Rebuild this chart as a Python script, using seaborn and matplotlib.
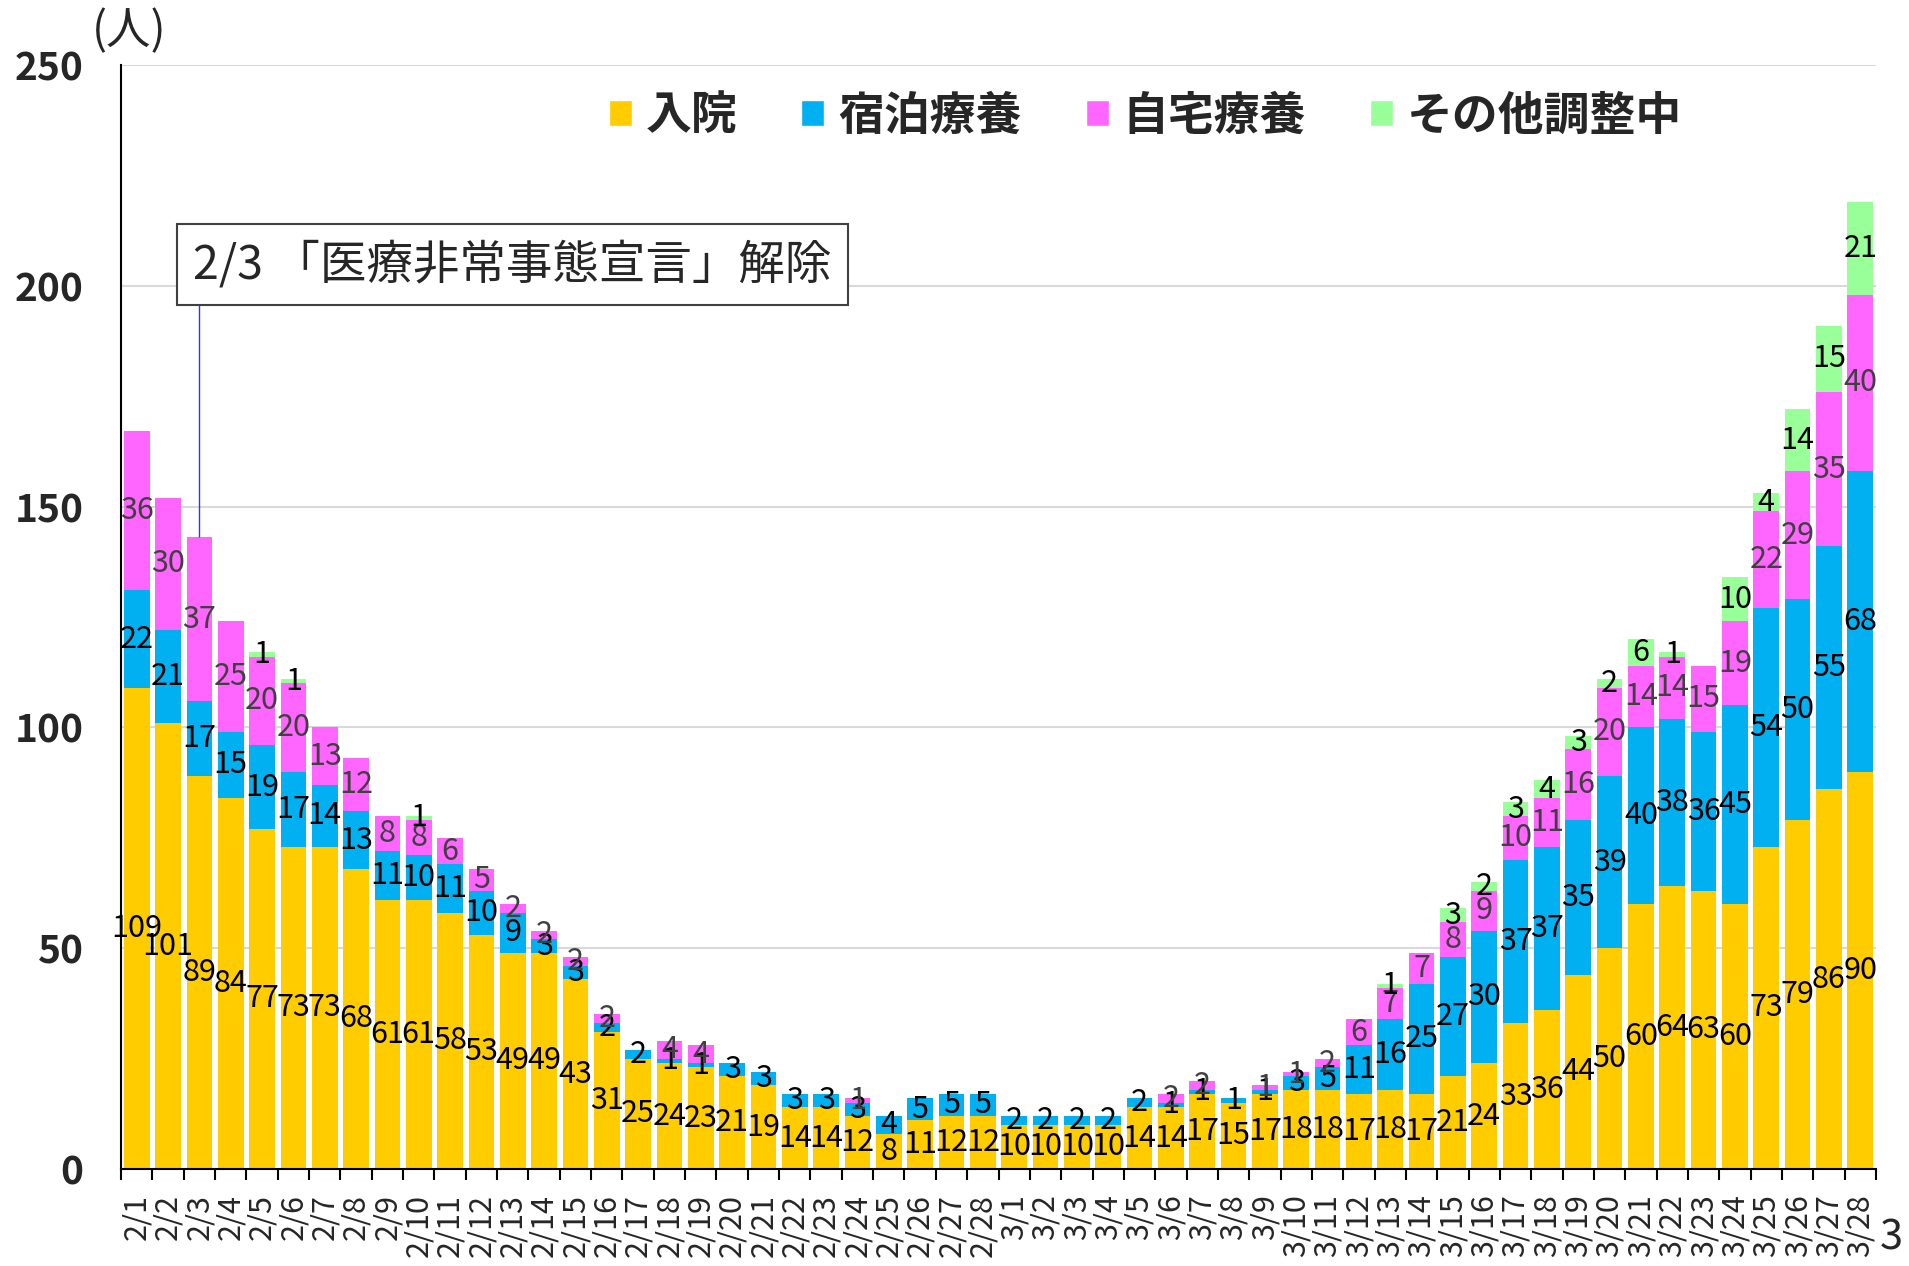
import numpy as np
import pandas as pd
import matplotlib
matplotlib.use('Agg')
import matplotlib.pyplot as plt
import seaborn as sns
from matplotlib.patches import Patch

sns.set_style('white')
plt.rcParams['font.family'] = ['Noto Sans CJK JP', 'DejaVu Sans']

# dates 2/1 - 3/28
dates = [f'2/{d}' for d in range(1, 29)] + [f'3/{d}' for d in range(1, 29)]

hospital = [109, 101, 89, 84, 77, 73, 73, 68, 61, 61, 58, 53, 49, 49, 43, 31, 25, 24, 23, 21,
            19, 14, 14, 12, 8, 11, 12, 12,
            10, 10, 10, 10, 14, 14, 17, 15, 17, 18, 18, 17, 18, 17, 21, 24, 33, 36, 44, 50,
            60, 64, 63, 60, 73, 79, 86, 90]
hotel = [22, 21, 17, 15, 19, 17, 14, 13, 11, 10, 11, 10, 9, 3, 3, 2, 2, 1, 1, 3,
         3, 3, 3, 3, 4, 5, 5, 5,
         2, 2, 2, 2, 2, 1, 1, 1, 1, 3, 5, 11, 16, 25, 27, 30, 37, 37, 35, 39,
         40, 38, 36, 45, 54, 50, 55, 68]
home = [36, 30, 37, 25, 20, 20, 13, 12, 8, 8, 6, 5, 2, 2, 2, 2, 0, 4, 4, 0,
        0, 0, 0, 1, 0, 0, 0, 0,
        0, 0, 0, 0, 0, 2, 2, 0, 1, 1, 2, 6, 7, 7, 8, 9, 10, 11, 16, 20,
        14, 14, 15, 19, 22, 29, 35, 40]
other = [0, 0, 0, 0, 1, 1, 0, 0, 0, 1, 0, 0, 0, 0, 0, 0, 0, 0, 0, 0,
         0, 0, 0, 0, 0, 0, 0, 0,
         0, 0, 0, 0, 0, 0, 0, 0, 0, 0, 0, 0, 1, 0, 3, 2, 3, 4, 3, 2,
         6, 1, 0, 10, 4, 14, 15, 21]

series_names = ['入院', '宿泊療養', '自宅療養', 'その他調整中']
colors = ['#FFCC00', '#00B0F0', '#FF66FF', '#99FF99']
label_colors = ['black', 'black', '#404040', 'black']
note_text = '2/3 「医療非常事態宣言」解除'
note_date = '2/3'

df = pd.DataFrame({'date': dates, '入院': hospital, '宿泊療養': hotel,
                   '自宅療養': home, 'その他調整中': other})

fig, ax = plt.subplots(figsize=(19.09, 12.66), dpi=100)
fig.subplots_adjust(left=0.0634, right=0.9827, bottom=0.0766, top=0.9487)

bottom = np.zeros(len(df))
for name, color, lab_color in zip(series_names, colors, label_colors):
    vals = df[name].to_numpy()
    sns.barplot(x=df['date'], y=vals, bottom=bottom, color=color, saturation=1,
                width=0.82, errorbar=None, linewidth=0, ax=ax)
    ax.bar_label(ax.containers[-1], labels=[str(v) if v else '' for v in vals],
                 label_type='center', color=lab_color, fontsize=22)
    bottom = bottom + vals

ax.set_xlabel('')
ax.set_ylabel('')
ax.set_xlim(-0.5, len(dates) - 0.5)
ax.set_ylim(0, 250)
ax.set_yticks(range(0, 251, 50))
for t in ax.get_yticklabels():
    t.set_fontsize(28)
    t.set_fontweight('bold')
ax.tick_params(axis='y', length=0, pad=27)

ax.set_xticks(range(len(dates)))
ax.set_xticklabels(dates, rotation=90, fontsize=22)
ax.set_xticks(np.arange(-0.5, len(dates), 1), minor=True)
ax.tick_params(axis='x', which='major', length=0, pad=18)
ax.tick_params(axis='x', which='minor', bottom=True, length=8, width=1.5,
               color='black', direction='out')

ax.yaxis.grid(True, color='#D9D9D9', linewidth=1.5)
ax.xaxis.grid(False)
ax.set_axisbelow(True)
for s in ['top', 'right']:
    ax.spines[s].set_visible(False)
for s in ['left', 'bottom']:
    ax.spines[s].set_color('black')
    ax.spines[s].set_linewidth(1.5)

# legend
handles = [Patch(facecolor=c, label=n) for n, c in zip(series_names, colors)]
fig.legend(handles=handles, loc='center', bbox_to_anchor=(0.6, 0.908), ncol=4,
           frameon=False, prop={'size': 33, 'weight': 'bold'},
           handlelength=0.5, handleheight=0.5, handletextpad=0.3, columnspacing=1.4)

# annotation box for 2/3, with a vertical line down to the bar
note = ax.text(0.223, 0.819, note_text, transform=ax.transAxes, ha='center', va='center',
               fontsize=33.5,
               bbox=dict(boxstyle='square,pad=0.35', fc='white', ec='#404040', lw=1.5))
fig.canvas.draw()
box = note.get_bbox_patch().get_window_extent()
box_bottom = ax.transData.inverted().transform((box.x0, box.y0))[1]
i = dates.index(note_date)
ax.vlines(i, bottom[i], box_bottom, color='#3030FF', lw=1)

fig.text(0.0676, 0.9755, '(人)', fontsize=32, ha='center', va='center')
fig.text(0.991, 0.022, '3', fontsize=30, ha='center', va='center')

fig.savefig('out.png', dpi=100)
